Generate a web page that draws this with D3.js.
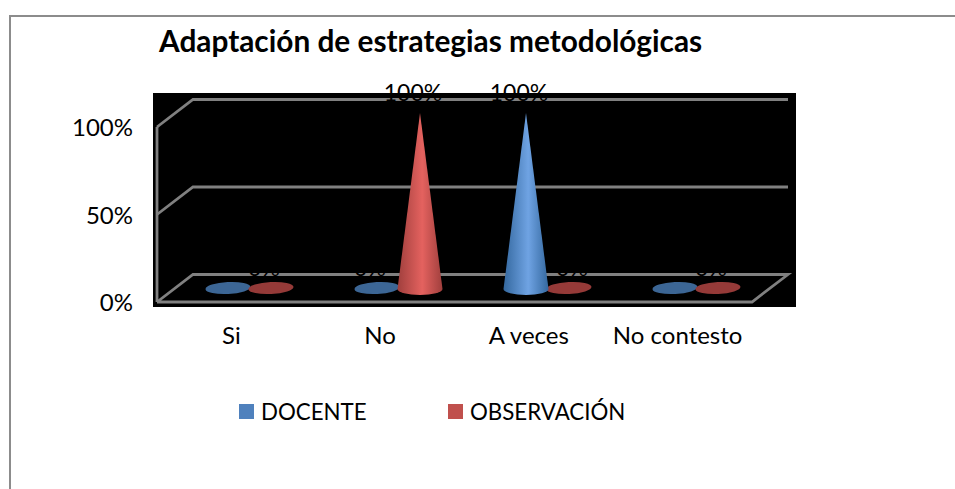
<!DOCTYPE html>
<html>
<head>
  <script src="https://cdnjs.cloudflare.com/ajax/libs/d3/7.8.5/d3.min.js" type="text/javascript"></script>
  <style>
    html, body { margin: 0; padding: 0; background: #fff; }
    svg { display: block; }
    text { font-family: Lato, "Open Sans", sans-serif; fill: #000; }
  </style>
</head>
<body>
  <svg id="chart" width="955" height="489"></svg>
  <script>
    var categories = ["Si", "No", "A veces", "No contesto"];
    var seriesNames = ["DOCENTE", "OBSERVACIÓN"];
    var docente = [0, 0, 100, 0];
    var observacion = [0, 100, 0, 0];
    // the picture shows no label for these blue zero slices
    var docenteLabeled = [false, true, true, false];
    var observacionLabeled = [true, true, true, true];
    var yTicks = [0, 50, 100];
    var titleText = "Adaptación de estrategias metodológicas";

    var svg = d3.select("#chart");

    // outer frame, only left and top reach inside the picture
    svg.append("path")
      .attr("d", d3.line()([[10, 489], [10, 16], [955, 16]]))
      .attr("fill", "none").attr("stroke", "#8c8c8c").attr("stroke-width", 2);

    svg.append("text")
      .attr("x", 159).attr("y", 52)
      .attr("font-size", 29.8).attr("font-weight", 700)
      .text(titleText);

    // plot background
    svg.append("rect")
      .attr("x", 153).attr("y", 93)
      .attr("width", 643).attr("height", 214)
      .attr("fill", "#000");

    // 3d box scales
    var depthX = 36, depthY = -27.5;
    var yFront = d3.scaleLinear().domain([0, 100]).range([302, 127]);
    var yCone = d3.scaleLinear().domain([0, 100]).range([288, 113]);
    var yLabel = d3.scaleLinear().domain([0, 100]).range([303, 128]);
    var xFront = d3.scaleBand().domain(categories).range([157, 752]);
    var xFloor = d3.scaleBand().domain(categories).range([175, 771]);
    var xSeries = d3.scaleBand().domain(seriesNames).range([-43, 43]);
    var color = d3.scaleOrdinal().domain(seriesNames).range(["#4f81bd", "#c0504d"]);

    var grid = svg.append("g")
      .attr("fill", "none").attr("stroke", "#808080").attr("stroke-width", 2.8);

    yTicks.forEach(function(t) {
      var y0 = yFront(t);
      var pts = [[157, y0], [157 + depthX, y0 + depthY], [752 + depthX, y0 + depthY]];
      if (t === 0) pts.push([752, y0], [157, y0]);
      grid.append("path").attr("d", d3.line()(pts));
    });
    grid.append("path").attr("d", d3.line()([[157, yFront(0)], [157, yFront(100)]]));

    // cone shading
    var defs = svg.append("defs");
    var shades = {
      "DOCENTE": ["#34689f", "#6fa3e3"],
      "OBSERVACIÓN": ["#a03f3d", "#e4625f"]
    };
    var flats = { "DOCENTE": "#3c6695", "OBSERVACIÓN": "#953a38" };
    seriesNames.forEach(function(s, i) {
      var g = defs.append("linearGradient").attr("id", "cone" + i);
      g.append("stop").attr("offset", "0%").attr("stop-color", shades[s][0]);
      g.append("stop").attr("offset", "55%").attr("stop-color", shades[s][1]);
      g.append("stop").attr("offset", "100%").attr("stop-color", shades[s][0]);
    });

    var rx = 22.5, ry = 6;
    var rows = [];
    categories.forEach(function(c, i) {
      rows.push({ cat: c, series: seriesNames[0], idx: 0, value: docente[i], labeled: docenteLabeled[i] });
      rows.push({ cat: c, series: seriesNames[1], idx: 1, value: observacion[i], labeled: observacionLabeled[i] });
    });

    function cx(d) {
      return xFloor(d.cat) + xFloor.bandwidth() / 2 + xSeries(d.series) + xSeries.bandwidth() / 2;
    }

    var marks = svg.append("g");
    rows.filter(function(d) { return d.value === 0; }).forEach(function(d) {
      marks.append("ellipse")
        .attr("cx", 0).attr("cy", 0).attr("rx", rx).attr("ry", ry)
        .attr("transform", "translate(" + cx(d) + "," + yCone(0) + ") rotate(-3)")
        .attr("fill", flats[d.series]);
    });
    rows.filter(function(d) { return d.value > 0; }).forEach(function(d) {
      var x = cx(d), b = yCone(0), top = yCone(d.value);
      marks.append("path")
        .attr("d", "M" + x + "," + top + "L" + (x + rx) + "," + (b + 1) +
          "A" + rx + "," + ry + " 0 0 1 " + (x - rx) + "," + (b + 1) + "Z")
        .attr("fill", "url(#cone" + d.idx + ")");
    });

    // data labels are black, so they only show over the grey lines and the white
    svg.append("g").selectAll("text")
      .data(rows.filter(function(d) { return d.labeled; }))
      .enter().append("text")
      .attr("x", function(d) { return cx(d) + (d.cat === "A veces" && d.value === 0 ? 3 : -7); })
      .attr("y", function(d) { return yCone(d.value) - 12; })
      .attr("text-anchor", "middle")
      .attr("font-size", 23)
      .text(function(d) { return d.value + "%"; });

    // y axis labels
    var yAxis = d3.axisLeft(yLabel).tickValues(yTicks).tickSize(0).tickPadding(0)
      .tickFormat(function(d) { return d + "%"; });
    svg.append("g").attr("transform", "translate(133,0)").call(yAxis)
      .call(function(g) { g.select(".domain").remove(); })
      .selectAll("text").attr("font-size", 24).attr("font-family", null);

    // x axis labels
    var xAxis = d3.axisBottom(xFront).tickSize(0).tickPadding(0);
    svg.append("g").attr("transform", "translate(0,327)").call(xAxis)
      .call(function(g) { g.select(".domain").remove(); })
      .selectAll("text").attr("font-size", 24).attr("font-family", null);

    // legend
    var legendX = d3.scaleOrdinal().domain(seriesNames).range([239, 448]);
    var legend = svg.append("g").selectAll("g")
      .data(seriesNames)
      .enter().append("g")
      .attr("transform", function(d) { return "translate(" + legendX(d) + ",404)"; });
    legend.append("rect").attr("width", 15).attr("height", 15)
      .attr("fill", function(d) { return color(d); });
    legend.append("text").attr("x", 22).attr("y", 16)
      .attr("font-size", 22.3)
      .text(function(d) { return d; });
  </script>
</body>
</html>
